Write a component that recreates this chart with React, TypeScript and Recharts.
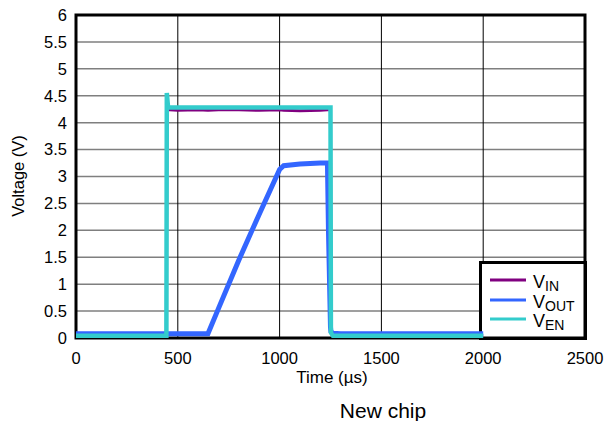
import React from "react";
import {
  LineChart,
  Line,
  XAxis,
  YAxis,
  CartesianGrid,
  ReferenceArea,
} from "recharts";

const times = [0, 100, 200, 300, 400, 444, 446, 452, 460, 500, 600, 648, 700, 800, 900, 1000, 1020, 1100, 1200, 1235, 1240, 1250, 1252, 1262, 1300, 1500, 1700, 2000];
const vin = [0.04, 0.04, 0.04, 0.04, 0.04, 0.04, 4.4, 4.24, 4.24, 4.23, 4.24, 4.23, 4.24, 4.24, 4.23, 4.24, 4.23, 4.22, 4.23, 4.24, 4.24, 4.24, 0.1, 0.04, 0.04, 0.04, 0.04, 0.04];
const vout = [0.08, 0.08, 0.08, 0.08, 0.08, 0.08, 0.08, 0.08, 0.08, 0.08, 0.08, 0.08, 0.55, 1.45, 2.3, 3.13, 3.2, 3.23, 3.25, 3.25, 2.0, 0.2, 0.12, 0.09, 0.08, 0.08, 0.08, 0.08];
const ven = [0.04, 0.04, 0.04, 0.04, 0.04, 0.04, 4.55, 4.29, 4.28, 4.28, 4.28, 4.28, 4.28, 4.28, 4.28, 4.28, 4.28, 4.28, 4.28, 4.28, 4.28, 4.28, 0.1, 0.04, 0.04, 0.04, 0.04, 0.04];
const xTicks = [0, 500, 1000, 1500, 2000, 2500];
const yTicks = [0, 0.5, 1, 1.5, 2, 2.5, 3, 3.5, 4, 4.5, 5, 5.5, 6];

const data = times.map((t, i) => ({ t, vin: vin[i], vout: vout[i], ven: ven[i] }));

const FONT = "'Liberation Sans', Arial, sans-serif";

const legendItems = [
  { sub: "IN", color: "#800080" },
  { sub: "OUT", color: "#3366ff" },
  { sub: "EN", color: "#33cccc" },
];
const legendRows = [280, 300, 319];

export default function App() {
  return (
    <div style={{ position: "absolute", left: 0, top: 0, width: 608, height: 421, background: "#fff" }}>
      <LineChart
        width={608}
        height={421}
        data={data}
        margin={{ top: 15, right: 23, bottom: 53, left: 16 }}
      >
        <CartesianGrid horizontal={true} vertical={false} stroke="#7f7f7f" strokeWidth={1.5} horizontalValues={yTicks} />
        <CartesianGrid horizontal={false} vertical={true} stroke="#000" strokeWidth={1} verticalValues={xTicks} />
        <XAxis
          dataKey="t"
          type="number"
          domain={[0, 2500]}
          ticks={xTicks}
          axisLine={false}
          tickLine={false}
          tickSize={0}
          tickMargin={14}
          height={30}
          tick={{ fill: "#000", fontSize: 16.5, fontFamily: FONT }}
          interval={0}
        />
        <YAxis
          type="number"
          domain={[0, 6]}
          ticks={yTicks}
          axisLine={false}
          tickLine={false}
          tickSize={0}
          tickMargin={9}
          width={60}
          tick={{ fill: "#000", fontSize: 16.5, fontFamily: FONT }}
          interval={0}
        />
        <Line type="linear" dataKey="vin" stroke="#800080" strokeWidth={3} dot={false} isAnimationActive={false} />
        <Line type="linear" dataKey="vout" stroke="#3366ff" strokeWidth={5} dot={false} isAnimationActive={false} />
        <Line type="linear" dataKey="ven" stroke="#33cccc" strokeWidth={4.5} dot={false} isAnimationActive={false} />
        <ReferenceArea x1={0} x2={2500} y1={0} y2={6} fill="none" stroke="#000" strokeWidth={3} ifOverflow="visible" />
        <rect x={480.5} y={262.5} width={105} height={76} fill="#fff" stroke="#000" strokeWidth={3} />
        {legendItems.map((it, i) => (
          <g key={it.sub}>
            <line x1={490} x2={526} y1={legendRows[i]} y2={legendRows[i]} stroke={it.color} strokeWidth={3} />
            <text x={533} y={legendRows[i] + 8} fontSize={18} fontFamily={FONT} fill="#000">
              V
              <tspan fontSize={14} dy={3}>{it.sub}</tspan>
            </text>
          </g>
        ))}
        <text x={332} y={383} textAnchor="middle" fontSize={17} fontFamily={FONT} fill="#000">
          Time (µs)
        </text>
        <text x={383} y={418} textAnchor="middle" fontSize={21} fontFamily={FONT} fill="#000">
          New chip
        </text>
        <text
          x={23.5}
          y={176}
          textAnchor="middle"
          fontSize={16.5}
          fontFamily={FONT}
          fill="#000"
          transform="rotate(-90 23.5 176)"
        >
          Voltage (V)
        </text>
      </LineChart>
    </div>
  );
}
